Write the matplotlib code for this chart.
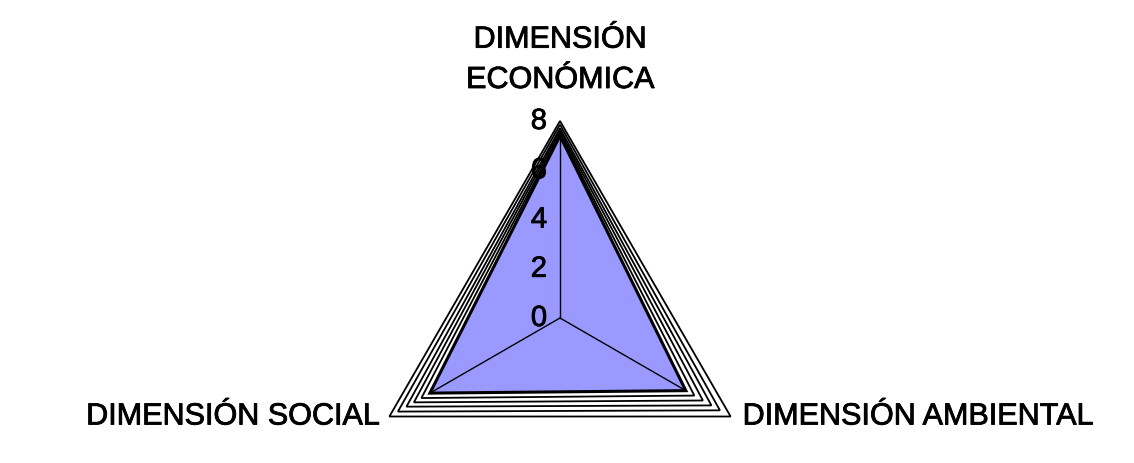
import numpy as np
import matplotlib.pyplot as plt
import matplotlib.patheffects as pe
from matplotlib.patches import Polygon

categories = ["DIMENSIÓN\nECONÓMICA", "DIMENSIÓN AMBIENTAL", "DIMENSIÓN SOCIAL"]
values = [7.4, 5.9, 6.1]
ticks = [0, 2, 4, 6, 8]
r_max = 8

# outline rings between the series and the outer edge, per axis
ring_econ = [7.5, 7.6, 7.7, 7.85, 8.0]
ring_amb = [6.3, 6.7, 7.1, 7.5, 8.0]
ring_soc = [6.5, 6.85, 7.2, 7.6, 8.0]

angles = np.radians([90, -30, 210])


def to_xy(vals):
    vals = np.asarray(vals, dtype=float)
    return np.column_stack([vals * np.cos(angles), vals * np.sin(angles)])


fig = plt.figure(figsize=(11.34, 4.64), dpi=100)
ax = fig.add_axes([0, 0, 1, 1])
u = 197 / r_max  # pixels per unit
ax.set_xlim(-560 / u, (1134 - 560) / u)
ax.set_ylim(-145 / u, 319 / u)
ax.axis("off")

plt.rcParams["font.family"] = ["Liberation Sans", "DejaVu Sans"]
heavy = [pe.withStroke(linewidth=0.6, foreground="black")]

# rings, outer first, white fill with black outline
rings = list(zip(ring_econ, ring_amb, ring_soc))
for ring in reversed(rings):
    ax.add_patch(Polygon(to_xy(ring), closed=True, facecolor="white",
                         edgecolor="black", linewidth=1.3, zorder=2))

# data series
blue = Polygon(to_xy(values), closed=True, facecolor="#9999FF",
               edgecolor="black", linewidth=2.2, zorder=3)
ax.add_patch(blue)

# spokes, visible inside the series only
for a in angles:
    line, = ax.plot([0, r_max * np.cos(a)], [0, r_max * np.sin(a)],
                    color="black", linewidth=1, zorder=4)
    line.set_clip_path(blue)

# value axis labels along the vertical spoke
for t in ticks:
    ax.text(-13 / u, t, str(t), ha="right", va="center",
            fontsize=21, color="black", zorder=5, path_effects=heavy)

# category labels
ax.text(0, r_max + 26 / u, categories[0], ha="center", va="bottom",
        fontsize=22, linespacing=1.45, path_effects=heavy)
p_amb = to_xy([0, r_max, 0])[1]
ax.text(p_amb[0] + 12 / u, p_amb[1], categories[1], ha="left", va="center",
        fontsize=22, path_effects=heavy)
p_soc = to_xy([0, 0, r_max])[2]
ax.text(p_soc[0] - 10 / u, p_soc[1], categories[2], ha="right", va="center",
        fontsize=22, path_effects=heavy)

fig.savefig("out.png", dpi=100)
